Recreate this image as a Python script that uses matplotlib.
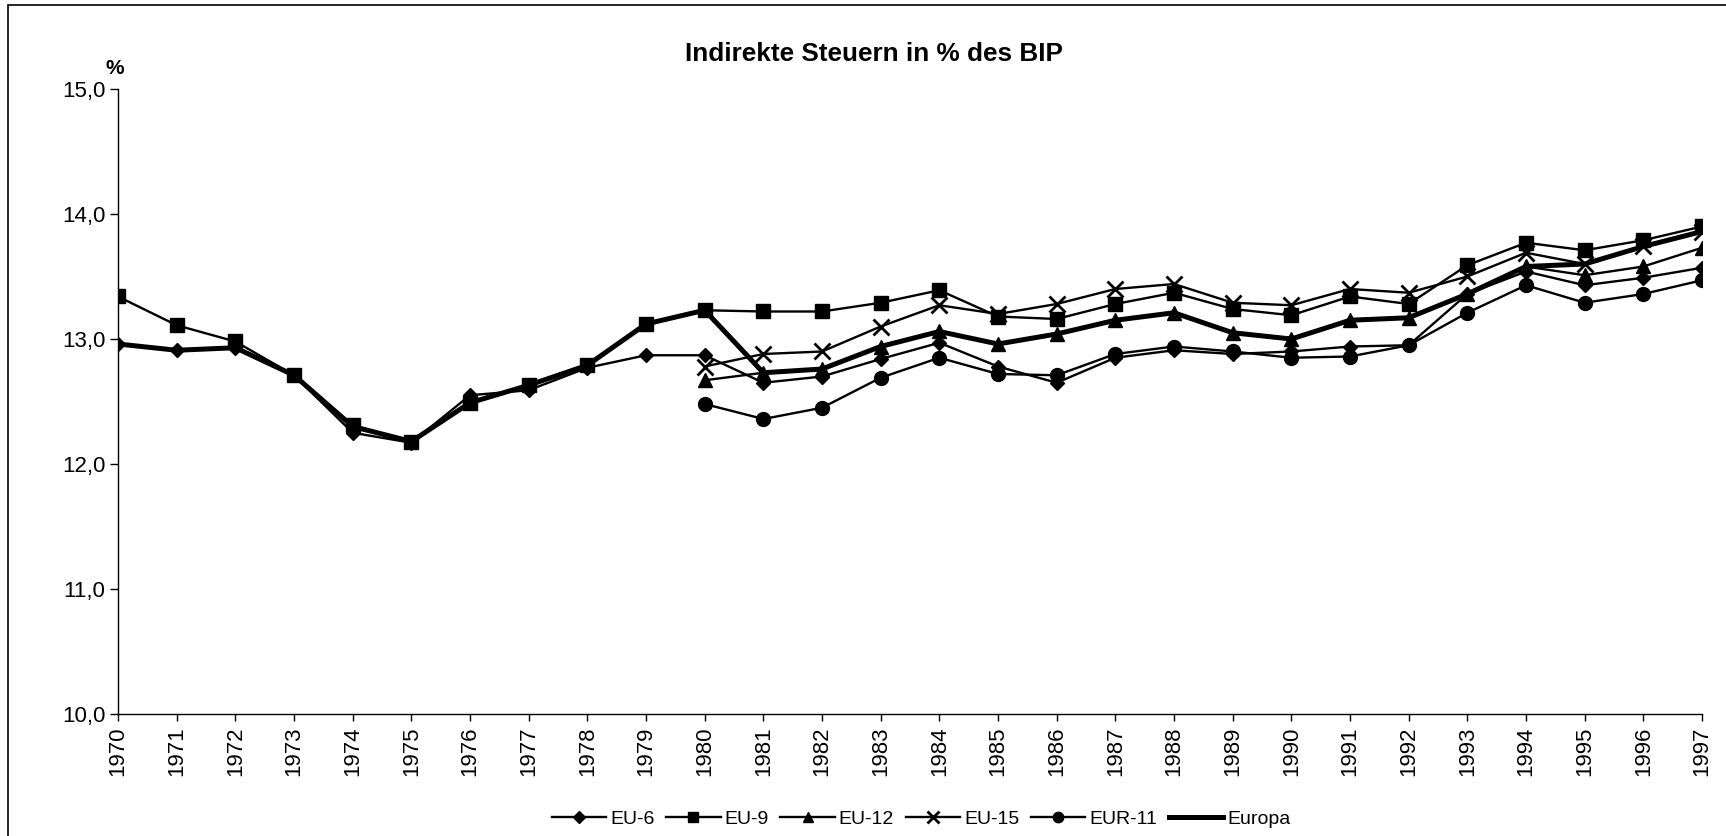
import numpy as np
import matplotlib.pyplot as plt
from matplotlib.patches import Rectangle
from matplotlib.ticker import FuncFormatter

plt.rcParams['font.family'] = ['Liberation Sans', 'DejaVu Sans']

# Data
years = list(range(1970, 1998))
nan = np.nan

eu6 = [12.96, 12.91, 12.93, 12.71, 12.25, 12.17, 12.55, 12.59, 12.77, 12.87,
       12.87, 12.65, 12.70, 12.84, 12.97, 12.78, 12.65, 12.85, 12.91, 12.88,
       12.90, 12.94, 12.95, 13.36, 13.54, 13.43, 13.49, 13.57]
eu9 = [13.34, 13.11, 12.98, 12.71, 12.31, 12.18, 12.49, 12.63, 12.79, 13.12,
       13.23, 13.22, 13.22, 13.29, 13.39, 13.18, 13.16, 13.28, 13.37, 13.24,
       13.19, 13.34, 13.28, 13.59, 13.77, 13.71, 13.79, 13.90]
eu12 = [nan] * 10 + [12.67, 12.73, 12.76, 12.94, 13.06, 12.96, 13.04, 13.15,
                     13.21, 13.05, 13.00, 13.15, 13.17, 13.36, 13.58, 13.51,
                     13.58, 13.73]
eu15 = [nan] * 10 + [12.78, 12.88, 12.90, 13.10, 13.27, 13.20, 13.28, 13.40,
                     13.44, 13.29, 13.27, 13.40, 13.37, 13.50, 13.69, 13.60,
                     13.74, 13.86]
eur11 = [nan] * 10 + [12.48, 12.36, 12.45, 12.69, 12.85, 12.72, 12.71, 12.88,
                      12.94, 12.90, 12.85, 12.86, 12.95, 13.21, 13.43, 13.29,
                      13.36, 13.47]
europa = [12.96, 12.91, 12.93, 12.71, 12.30, 12.18, 12.49, 12.63, 12.79, 13.12,
          13.23, 12.73, 12.76, 12.94, 13.06, 12.96, 13.04, 13.15, 13.21, 13.05,
          13.00, 13.15, 13.17, 13.36, 13.58, 13.60, 13.74, 13.86]

fig = plt.figure(figsize=(17.26, 8.36), dpi=100)
ax = fig.add_axes([118 / 1726, 1 - 714 / 836, (1702 - 118) / 1726, (714 - 89) / 836])

lw = 1.7
ax.plot(years, eu6, color='black', lw=lw, marker='D', ms=7.5, label='EU-6')
ax.plot(years, eu9, color='black', lw=lw, marker='s', ms=9.5, label='EU-9')
ax.plot(years, eu12, color='black', lw=lw, marker='^', ms=10, label='EU-12')
ax.plot(years, eu15, color='black', lw=lw, marker='x', ms=11.5, mew=2, label='EU-15')
ax.plot(years, eur11, color='black', lw=lw, marker='o', ms=10, label='EUR-11')
ax.plot(years, europa, color='black', lw=3.6, label='Europa')

ax.set_xlim(1970, 1997)
ax.set_ylim(10, 15)
ax.set_xticks(years)
ax.set_xticklabels([str(y) for y in years], rotation=90)
ax.set_yticks([10, 11, 12, 13, 14, 15])
ax.yaxis.set_major_formatter(FuncFormatter(lambda v, p: ('%.1f' % v).replace('.', ',')))
ax.tick_params(axis='y', labelsize=16, length=6, width=1, pad=3)
ax.tick_params(axis='x', labelsize=16, length=5, width=1, pad=4)
for s in ['top', 'right']:
    ax.spines[s].set_visible(False)
for s in ['left', 'bottom']:
    ax.spines[s].set_linewidth(1)

fig.text(874 / 1726, 1 - 54 / 836, 'Indirekte Steuern in % des BIP',
         ha='center', va='center', fontsize=18.8, fontweight='bold')
fig.text(115 / 1726, 1 - 69 / 836, '%', ha='center', va='center',
         fontsize=15, fontweight='bold')

fig.legend(loc='center', bbox_to_anchor=(921 / 1726, 1 - 819 / 836), ncol=6,
           frameon=False, fontsize=14, markerscale=0.75, handlelength=2.8,
           handletextpad=0.2, columnspacing=0.6, borderaxespad=0)

# chart area border
fig.patches.append(Rectangle((8 / 1726, -0.05), 1.1, 1 - 5 / 836 + 0.05,
                             transform=fig.transFigure, fill=False,
                             edgecolor='black', lw=1.2))

fig.savefig('out.png', dpi=100)
